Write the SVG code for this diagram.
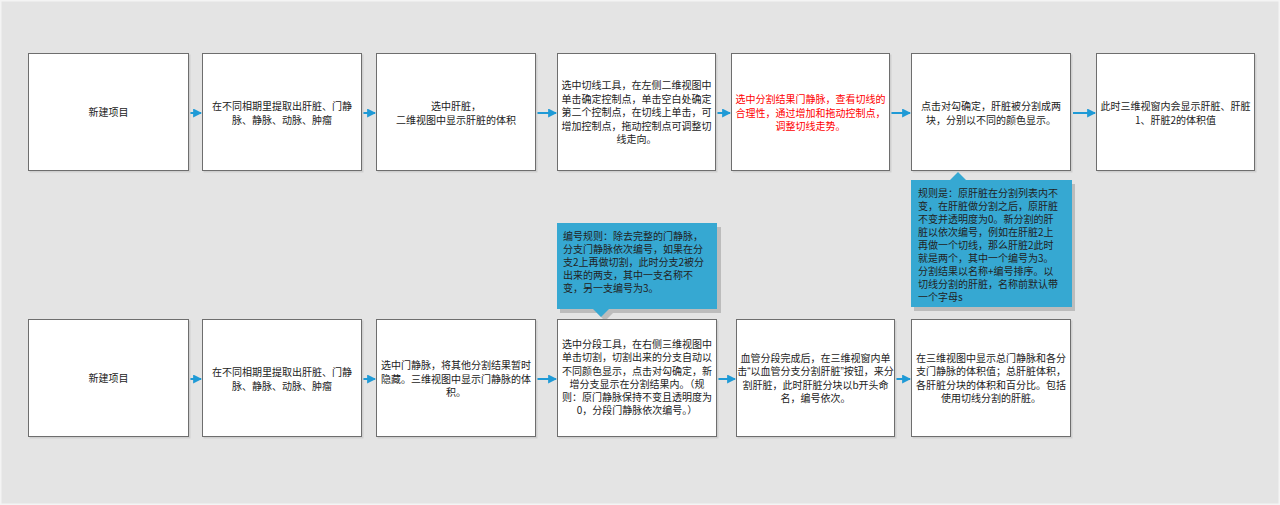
<svg xmlns="http://www.w3.org/2000/svg" width="1280" height="505" viewBox="0 0 1280 505">
<defs>
<style>
.box{fill:#ffffff;stroke:#6e6e6e;stroke-width:1}
.shadow{fill:#cfcfcf}
text{font-family:"Microsoft YaHei","Noto Sans CJK SC","Noto Sans",sans-serif;font-size:10px;fill:#222222}
.c{text-anchor:middle}
.red{fill:#ff0000}
.q{font-family:"Liberation Sans",sans-serif}
.conn{stroke:#1f9ad6;stroke-width:2;fill:none}
.callout{fill:#36a8d2}
.cshadow{fill:#9a9a9a;opacity:0.55}
</style>
<marker id="ah" viewBox="0 0 8 8" refX="7" refY="4" markerWidth="4.5" markerHeight="4.5" markerUnits="strokeWidth" orient="auto">
<path d="M0,0 L8,4 L0,8 Z" fill="#1f9ad6"/>
</marker>
</defs>
<rect x="0" y="0" width="1280" height="505" fill="#f4f4f4"/>
<rect x="1.5" y="1.5" width="1277" height="502" fill="#e4e4e4"/>

<g id="connectors">
<line class="conn" x1="190" y1="113" x2="201" y2="113" marker-end="url(#ah)"/>
<line class="conn" x1="363" y1="113" x2="375" y2="113" marker-end="url(#ah)"/>
<line class="conn" x1="537" y1="113" x2="556" y2="113" marker-end="url(#ah)"/>
<line class="conn" x1="717" y1="113" x2="730" y2="113" marker-end="url(#ah)"/>
<line class="conn" x1="891" y1="113" x2="910" y2="113" marker-end="url(#ah)"/>
<line class="conn" x1="1073" y1="113" x2="1095" y2="113" marker-end="url(#ah)"/>
<line class="conn" x1="190" y1="379" x2="201" y2="379" marker-end="url(#ah)"/>
<line class="conn" x1="363" y1="379" x2="375" y2="379" marker-end="url(#ah)"/>
<line class="conn" x1="537" y1="379" x2="556" y2="379" marker-end="url(#ah)"/>
<line class="conn" x1="718" y1="379" x2="735" y2="379" marker-end="url(#ah)"/>
<line class="conn" x1="896" y1="379" x2="910" y2="379" marker-end="url(#ah)"/>
</g>

<g id="t1">
<rect class="shadow" x="29.5" y="54.5" width="161" height="118"/>
<rect class="box" x="28.5" y="53.5" width="160" height="117"/>
<text class="c" x="108.5" y="116">新建项目</text>
</g>
<g id="t2">
<rect class="shadow" x="203.5" y="54.5" width="160" height="118"/>
<rect class="box" x="202.5" y="53.5" width="159" height="117"/>
<text class="c" x="282" y="110">在不同相期里提取出肝脏、门静</text>
<text class="c" x="282" y="124">脉、静脉、动脉、肿瘤</text>
</g>
<g id="t3">
<rect class="shadow" x="377.5" y="54.5" width="160" height="118"/>
<rect class="box" x="376.5" y="53.5" width="159" height="117"/>
<text class="c" x="456" y="110">选中肝脏，</text>
<text class="c" x="456" y="124">二维视图中显示肝脏的体积</text>
</g>
<g id="t4">
<rect class="shadow" x="558.5" y="54.5" width="159" height="118"/>
<rect class="box" x="557.5" y="53.5" width="158" height="117"/>
<text class="c" x="636.5" y="89">选中切线工具，在左侧二维视图中</text>
<text class="c" x="636.5" y="102.5">单击确定控制点，单击空白处确定</text>
<text class="c" x="636.5" y="116">第二个控制点，在切线上单击，可</text>
<text class="c" x="636.5" y="129.5">增加控制点，拖动控制点可调整切</text>
<text class="c" x="636.5" y="143">线走向。</text>
</g>
<g id="t5">
<rect class="shadow" x="732.5" y="54.5" width="159" height="118"/>
<rect class="box" x="731.5" y="53.5" width="158" height="117"/>
<text class="c red" x="810.5" y="103">选中分割结果门静脉，查看切线的</text>
<text class="c red" x="810.5" y="116.5">合理性，通过增加和拖动控制点，</text>
<text class="c red" x="810.5" y="130">调整切线走势。</text>
</g>
<g id="t6">
<rect class="shadow" x="912.5" y="54.5" width="160" height="118"/>
<rect class="box" x="911.5" y="53.5" width="159" height="117"/>
<text class="c" x="991" y="110">点击对勾确定，肝脏被分割成两</text>
<text class="c" x="991" y="124">块，分别以不同的颜色显示。</text>
</g>
<g id="t7">
<rect class="shadow" x="1097.5" y="54.5" width="159" height="118"/>
<rect class="box" x="1096.5" y="53.5" width="158" height="117"/>
<text class="c" x="1175.5" y="110">此时三维视窗内会显示肝脏、肝脏</text>
<text class="c" x="1175.5" y="124">1、肝脏2的体积值</text>
</g>

<g id="note1">
<path class="cshadow" d="M914,184 H1075 V311 H914 Z"/>
<path class="callout" d="M911,180 H950 L958,172 L966,180 H1072 V307 H911 Z"/>
<text x="918" y="196.5">规则是：原肝脏在分割列表内不</text>
<text x="918" y="209.5">变，在肝脏做分割之后，原肝脏</text>
<text x="918" y="222.5">不变并透明度为0。新分割的肝</text>
<text x="918" y="235.5">脏以依次编号，例如在肝脏2上</text>
<text x="918" y="248.5">再做一个切线，那么肝脏2此时</text>
<text x="918" y="261.5">就是两个，其中一个编号为3。</text>
<text x="918" y="274.5">分割结果以名称+编号排序。以</text>
<text x="918" y="287.5">切线分割的肝脏，名称前默认带</text>
<text x="918" y="300.5">一个字母s</text>
</g>

<g id="note2">
<path class="cshadow" d="M560,227 H721 V313 H613 L605,321 L597,313 H560 Z"/>
<path class="callout" d="M557,223 H717 V309 H609 L601,317 L593,309 H557 Z"/>
<text x="563" y="240">编号规则：除去完整的门静脉，</text>
<text x="563" y="253">分支门静脉依次编号，如果在分</text>
<text x="563" y="266">支2上再做切割，此时分支2被分</text>
<text x="563" y="279">出来的两支，其中一支名称不</text>
<text x="563" y="292">变，另一支编号为3。</text>
</g>

<g id="b1">
<rect class="shadow" x="29.5" y="320.5" width="161" height="118"/>
<rect class="box" x="28.5" y="319.5" width="160" height="117"/>
<text class="c" x="108.5" y="382">新建项目</text>
</g>
<g id="b2">
<rect class="shadow" x="203.5" y="320.5" width="160" height="118"/>
<rect class="box" x="202.5" y="319.5" width="159" height="117"/>
<text class="c" x="282" y="376">在不同相期里提取出肝脏、门静</text>
<text class="c" x="282" y="390">脉、静脉、动脉、肿瘤</text>
</g>
<g id="b3">
<rect class="shadow" x="377.5" y="320.5" width="160" height="118"/>
<rect class="box" x="376.5" y="319.5" width="159" height="117"/>
<text class="c" x="456" y="369">选中门静脉，将其他分割结果暂时</text>
<text class="c" x="456" y="382.5">隐藏。三维视图中显示门静脉的体</text>
<text class="c" x="456" y="396">积。</text>
</g>
<g id="b4">
<rect class="shadow" x="558.5" y="320.5" width="160" height="118"/>
<rect class="box" x="557.5" y="319.5" width="159" height="117"/>
<text class="c" x="637" y="348">选中分段工具，在右侧三维视图中</text>
<text class="c" x="637" y="361">单击切割，切割出来的分支自动以</text>
<text class="c" x="637" y="374.5">不同颜色显示，点击对勾确定，新</text>
<text class="c" x="637" y="388">增分支显示在分割结果内。（规</text>
<text class="c" x="637" y="401">则：原门静脉保持不变且透明度为</text>
<text class="c" x="637" y="414">0，分段门静脉依次编号。）</text>
</g>
<g id="b5">
<rect class="shadow" x="737.5" y="320.5" width="159" height="118"/>
<rect class="box" x="736.5" y="319.5" width="158" height="117"/>
<text class="c" x="815.5" y="362">血管分段完成后，在三维视窗内单</text>
<text class="c" x="815.5" y="375">击<tspan class="q">“</tspan>以血管分支分割肝脏<tspan class="q">”</tspan>按钮，来分</text>
<text class="c" x="815.5" y="388.5">割肝脏，此时肝脏分块以b开头命</text>
<text class="c" x="815.5" y="401.5">名，编号依次。</text>
</g>
<g id="b6">
<rect class="shadow" x="912.5" y="320.5" width="160" height="118"/>
<rect class="box" x="911.5" y="319.5" width="159" height="117"/>
<text class="c" x="991" y="362">在三维视图中显示总门静脉和各分</text>
<text class="c" x="991" y="375">支门静脉的体积值；总肝脏体积，</text>
<text class="c" x="991" y="388.5">各肝脏分块的体积和百分比。包括</text>
<text class="c" x="991" y="401.5">使用切线分割的肝脏。</text>
</g>
</svg>
